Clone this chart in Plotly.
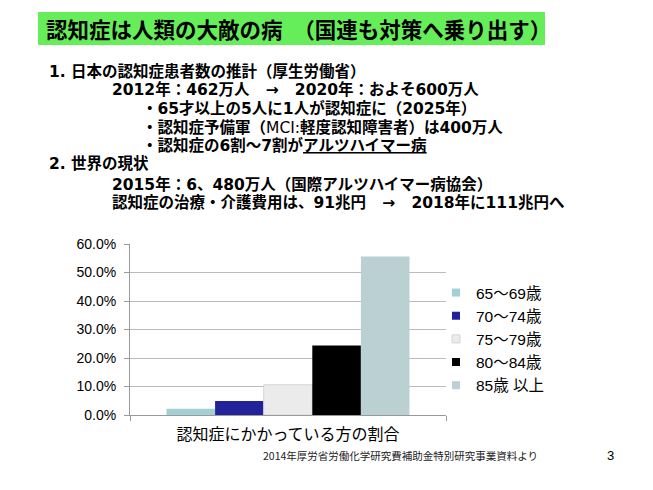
import plotly.graph_objects as go

# ---- data ----
category = ["認知症にかかっている方の割合"]
age_groups = ["65〜69歳", "70〜74歳", "75〜79歳", "80〜84歳", "85歳 以上"]
rates = [0.022, 0.049, 0.106, 0.244, 0.556]
bar_colors = ["#A3D1D3", "#22229A", "#EBEBEB", "#000000", "#BAD0D3"]
line_colors = ["#A3D1D3", "#22229A", "#D4D4D4", "#000000", "#BAD0D3"]

title_text = "認知症は人類の大敵の病　（国連も対策へ乗り出す）"
body_lines = [
    "1. 日本の認知症患者数の推計（厚生労働省）",
    "2012年：462万人   →   2020年：およそ600万人",
    "・65才以上の5人に1人が認知症に（2025年）",
    "・認知症予備軍（<span style='font-weight:normal'>MCI:</span>軽度認知障害者）は400万人",
    "・認知症の6割～7割が<u>アルツハイマー病</u>",
    "2. 世界の現状",
    "2015年：6、480万人（国際アルツハイマー病協会）",
    "認知症の治療・介護費用は、91兆円   →   2018年に111兆円へ",
]
caption = "2014年厚労省労働化学研究費補助金特別研究事業資料より"
page_no = "3"

# ---- layout geometry (pixels) ----
W, H = 653, 490
PL, PR, PT, PB = 130, 446, 244, 415


def px(x):
    return (x - PL) / (PR - PL)


def py(y):
    return (PB - y) / (PB - PT)


LAT = "Liberation Sans, Arial, Noto Sans CJK JP, sans-serif"
JP = "Noto Sans CJK JP, Liberation Sans, sans-serif"
BODY = "DejaVu Sans, Noto Sans CJK JP, sans-serif"
LATJP = "Liberation Sans, Arial, Noto Sans CJK JP, sans-serif"

fig = go.Figure()
for name, val, c, lc in zip(age_groups, rates, bar_colors, line_colors):
    fig.add_trace(go.Bar(
        x=category, y=[val], name=name, showlegend=False,
        marker=dict(color=c, line=dict(color=lc, width=1 if lc != c else 0)),
    ))
for name, c, lc in zip(age_groups, bar_colors, line_colors):
    fig.add_trace(go.Scatter(
        x=[None], y=[None], mode="markers", name=name,
        marker=dict(symbol="square", size=8, color=c, line=dict(color=lc, width=1 if lc != c else 0)),
    ))

annotations = []
# title
annotations.append(dict(text="<b>" + title_text + "</b>", x=px(44), y=py(29), xref="paper", yref="paper",
                        xanchor="left", yanchor="middle", showarrow=False,
                        font=dict(family=JP, size=21.5, color="#000")))
line_pos = [(47, 71), (110, 89), (140, 108), (140, 127), (140, 145), (47, 164), (110, 184), (110, 202)]
for t, (x, y) in zip(body_lines, line_pos):
    annotations.append(dict(text="<b>" + t + "</b>", x=px(x), y=py(y), xref="paper", yref="paper",
                            xanchor="left", yanchor="middle", showarrow=False,
                            font=dict(family=BODY, size=15.5, color="#000")))
annotations.append(dict(text=caption, x=px(400), y=py(455), xref="paper", yref="paper",
                        xanchor="center", yanchor="middle", showarrow=False,
                        font=dict(family=JP, size=10.5, color="#222")))
annotations.append(dict(text=page_no, x=px(610), y=py(455), xref="paper", yref="paper",
                        xanchor="center", yanchor="middle", showarrow=False,
                        font=dict(family=LAT, size=13, color="#000")))

fig.update_layout(
    width=W, height=H,
    margin=dict(l=PL, r=W - PR, t=PT, b=H - PB, pad=0),
    paper_bgcolor="white", plot_bgcolor="white",
    barmode="group", bargap=0.231, bargroupgap=0,
    annotations=annotations,
    shapes=[dict(type="rect", xref="paper", yref="paper", x0=px(38), x1=px(545), y0=py(45), y1=py(12),
                 fillcolor="#66EE5A", line=dict(width=0), layer="below")],
    legend=dict(x=px(436), y=py(276), xanchor="left", yanchor="top",
                font=dict(family=LATJP, size=15.5, color="#000"),
                bgcolor="rgba(0,0,0,0)", tracegroupgap=0, itemsizing="trace"),
    showlegend=True,
)
fig.update_xaxes(showline=True, linecolor="#999999", linewidth=1, ticks="outside", tickson="boundaries",
                 ticklen=5, tickcolor="#999999", showgrid=False, ticklabelstandoff=5,
                 tickfont=dict(family=JP, size=16, color="#000"))
fig.update_yaxes(range=[0, 0.6], dtick=0.1, tickformat=".1%", showline=True, linecolor="#999999",
                 linewidth=1, ticks="outside", ticklen=5, tickcolor="#999999", showgrid=True,
                 gridcolor="#BBBBBB", gridwidth=1, zeroline=False, ticklabelstandoff=5,
                 tickfont=dict(family=LAT, size=14, color="#000"))

fig.write_html("out.html")
